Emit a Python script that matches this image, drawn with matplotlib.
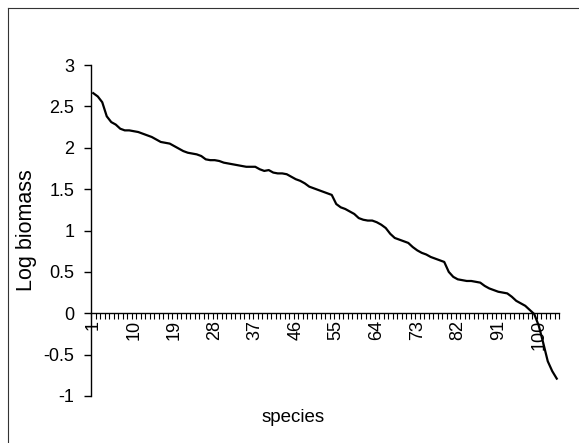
import matplotlib
matplotlib.use('Agg')
from matplotlib import pyplot as plt
from matplotlib.lines import Line2D

# log biomass per species, ranked
log_biomass = [
    2.66, 2.62, 2.55, 2.38, 2.31, 2.28, 2.23, 2.21, 2.21, 2.20,
    2.19, 2.17, 2.15, 2.13, 2.10, 2.07, 2.06, 2.05, 2.02, 1.99,
    1.96, 1.94, 1.93, 1.92, 1.90, 1.86, 1.85, 1.85, 1.84, 1.82,
    1.81, 1.80, 1.79, 1.78, 1.77, 1.77, 1.77, 1.74, 1.72, 1.73,
    1.70, 1.69, 1.69, 1.68, 1.65, 1.62, 1.60, 1.57, 1.53, 1.51,
    1.49, 1.47, 1.45, 1.43, 1.32, 1.28, 1.26, 1.23, 1.20, 1.15,
    1.13, 1.12, 1.12, 1.10, 1.07, 1.03, 0.96, 0.91, 0.89, 0.87,
    0.85, 0.80, 0.76, 0.73, 0.71, 0.68, 0.66, 0.64, 0.62, 0.50,
    0.44, 0.41, 0.40, 0.39, 0.39, 0.38, 0.37, 0.33, 0.30, 0.28,
    0.26, 0.25, 0.24, 0.20, 0.15, 0.12, 0.09, 0.04, -0.01, -0.15,
    -0.36, -0.58, -0.70, -0.79,
]
species = list(range(1, len(log_biomass) + 1))
label_species = species[::9]
y_ticks = [-1, -0.5, 0, 0.5, 1, 1.5, 2, 2.5, 3]
y_labels = ['-1', '-0.5', '0', '0.5', '1', '1.5', '2', '2.5', '3']

plt.rcParams['font.family'] = ['Liberation Sans', 'DejaVu Sans']

fig = plt.figure(figsize=(5.79, 4.43), dpi=100)
ax = fig.add_axes([91 / 579, 1 - 396 / 443, (559 - 91) / 579, (396 - 65) / 443])

ax.plot(species, log_biomass, color='black', lw=1.6)

ax.set_xlim(0.5, len(log_biomass) + 0.5)
ax.set_ylim(-1, 3)

# excel style axes: category axis crossing at zero
ax.spines['top'].set_visible(False)
ax.spines['right'].set_visible(False)
ax.spines['bottom'].set_position(('data', 0))
ax.spines['bottom'].set_linewidth(1.0)
ax.spines['left'].set_linewidth(1.0)

ax.set_yticks(y_ticks)
ax.set_yticklabels(y_labels)
ax.tick_params(axis='y', direction='out', length=5, width=1, pad=7, labelsize=13)

ax.set_xticks(label_species)
ax.set_xticklabels([str(s) for s in label_species], rotation=90, va='top')
ax.set_xticks([s + 0.5 for s in range(0, len(log_biomass) + 1)], minor=True)
ax.tick_params(axis='x', which='major', length=0, pad=5, labelsize=13)
ax.tick_params(axis='x', which='minor', direction='out', length=4, width=0.8)

ax.set_ylabel('Log biomass', fontsize=15.5, labelpad=5)
fig.text(293 / 579, 1 - 418 / 443, 'species', fontsize=13.5, ha='center', va='center')

# chart border (top and left of the scanned frame)
fig.add_artist(Line2D([8 / 579, 1], [1 - 8 / 443, 1 - 8 / 443], color='#333333', lw=0.8))
fig.add_artist(Line2D([8 / 579, 8 / 579], [1 - 8 / 443, 0], color='#333333', lw=0.8))

fig.savefig('out.png', dpi=100)
